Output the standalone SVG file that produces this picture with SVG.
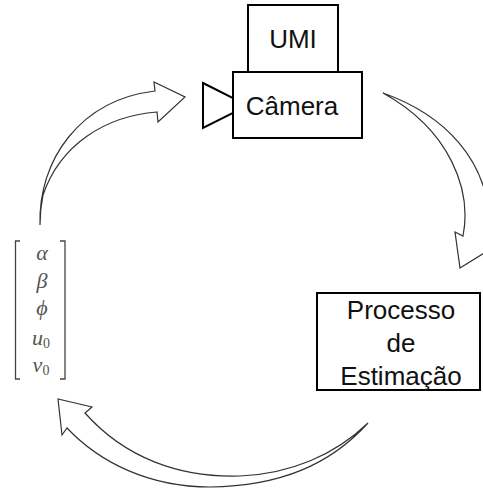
<svg xmlns="http://www.w3.org/2000/svg" width="483" height="490" viewBox="0 0 483 490">
<style>
.box{fill:#fff;stroke:#000;stroke-width:2}
.lbl{font-family:"Liberation Sans",Arial,sans-serif;font-size:26px;fill:#111;text-anchor:middle}
.arr{fill:#fff;stroke:#333;stroke-width:1.2;stroke-linejoin:miter}
.m{font-family:"Liberation Serif","Times New Roman",serif;font-style:italic;font-size:22px;fill:#555;text-anchor:middle}
.br{fill:none;stroke:#444;stroke-width:1.3}
</style>
<rect width="483" height="490" fill="#fff"/>
<g id="connectors">
<path class="arr" d="M40,225 C38,160 80,100 155,91 L154,82 L185,97 L158,122 L157,112 C105,116 60,145 43,195 Q40,210 40,225 Z"/>
<path class="arr" d="M383,93 C445,115 488,160 490,225 L505,240 L460,268 L455,232 L463,236 C472,190 450,130 383,93 Z"/>
<path class="arr" d="M368,423 C330,465 280,486 210,487 C150,487 100,463 67,428 L62,435 L58,399 L92,407 L85,413 C125,458 180,478 240,476 C290,474 335,455 368,423 Z"/>
</g>
<g id="umi">
<rect class="box" x="248" y="5" width="90" height="67"/>
<text class="lbl" x="293" y="48">UMI</text>
</g>
<g id="camera">
<polygon class="box" points="203,83 233,98 233,113 203,128"/>
<rect class="box" x="233" y="72" width="129" height="66"/>
<text class="lbl" x="292" y="115">Câmera</text>
</g>
<g id="processo">
<rect class="box" x="317" y="293" width="163" height="97" stroke-width="2.5"/>
<text class="lbl" x="401" y="319">Processo</text>
<text class="lbl" x="401" y="352">de</text>
<text class="lbl" x="401" y="385">Estimação</text>
</g>
<g id="parametros">
<path class="br" d="M20,241 H15.5 V379 H20"/>
<path class="br" d="M60,241 H65 V379 H60"/>
<text class="m" x="42" y="260">α</text>
<text class="m" x="42" y="288">β</text>
<text class="m" x="42" y="315">ϕ</text>
<text class="m" x="41" y="345">u<tspan font-size="14" dy="3" font-style="normal">0</tspan></text>
<text class="m" x="41" y="372">v<tspan font-size="14" dy="3" font-style="normal">0</tspan></text>
</g>
</svg>
